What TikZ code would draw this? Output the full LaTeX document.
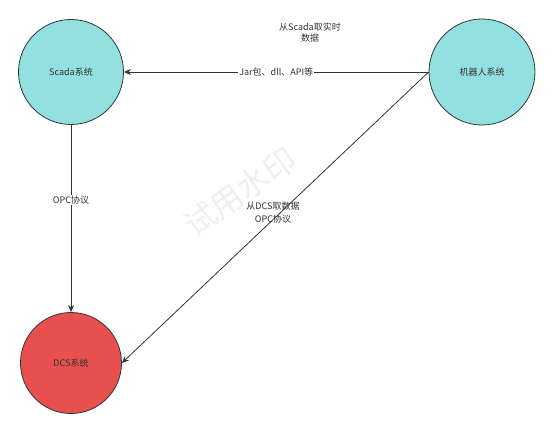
\documentclass[tikz,border=0pt]{standalone}
\usepackage{fontspec}
\newfontfamily\cjk{Noto Sans CJK SC}
\usetikzlibrary{arrows.meta}
\definecolor{lineDark}{HTML}{333333}
\definecolor{textDark}{HTML}{333333}
\definecolor{sysCyan}{HTML}{92E0E0}
\definecolor{sysRed}{HTML}{E84F4F}
\definecolor{markGray}{HTML}{EFEFEF}
\tikzset{
    sysnode/.style={circle,draw=lineDark,line width=0.8pt,inner sep=0pt,
        font=\cjk\fontsize{9}{11}\selectfont,text=textDark},
    cyannode/.style={sysnode,fill=sysCyan},
    rednode/.style={sysnode,fill=sysRed},
    arrow/.style={-{Stealth[length=7pt,width=6pt]},draw=lineDark,line width=0.8pt},
    lbl/.style={font=\cjk\fontsize{9}{11}\selectfont,text=textDark,align=center,inner sep=1pt}
}
\begin{document}
\begin{tikzpicture}[x=1pt,y=-1pt]
        \useasboundingbox (0,0) rectangle (554,433);

        % watermark
        \node[font=\cjk\fontsize{32}{34}\selectfont,text=markGray,rotate=35] (mark) at (240,192) {试用水印};

        \node[cyannode,minimum size=105pt] (scada) at (71,72) {Scada系统};
        \node[cyannode,minimum size=106pt] (robot) at (482,72) {机器人系统};
        \node[rednode,minimum size=101pt] (dcs) at (71,363) {DCS系统};

        \draw[arrow] (robot.west) -- node[lbl,fill=white] (jar) {Jar包、dll、API等} (scada.east);
        \draw[arrow] (scada.south) -- node[lbl,fill=white,pos=0.4] (opc) {OPC协议} (dcs.north);
        \draw[arrow] (robot.west) -- (dcs.east);

        \node[lbl] (fromscada) at (310,33) {从Scada取实时\\数据};
        \node[lbl] (fromdcs) at (273,213) {从DCS取数据\\[2pt]OPC协议};
    \end{tikzpicture}
\end{document}
